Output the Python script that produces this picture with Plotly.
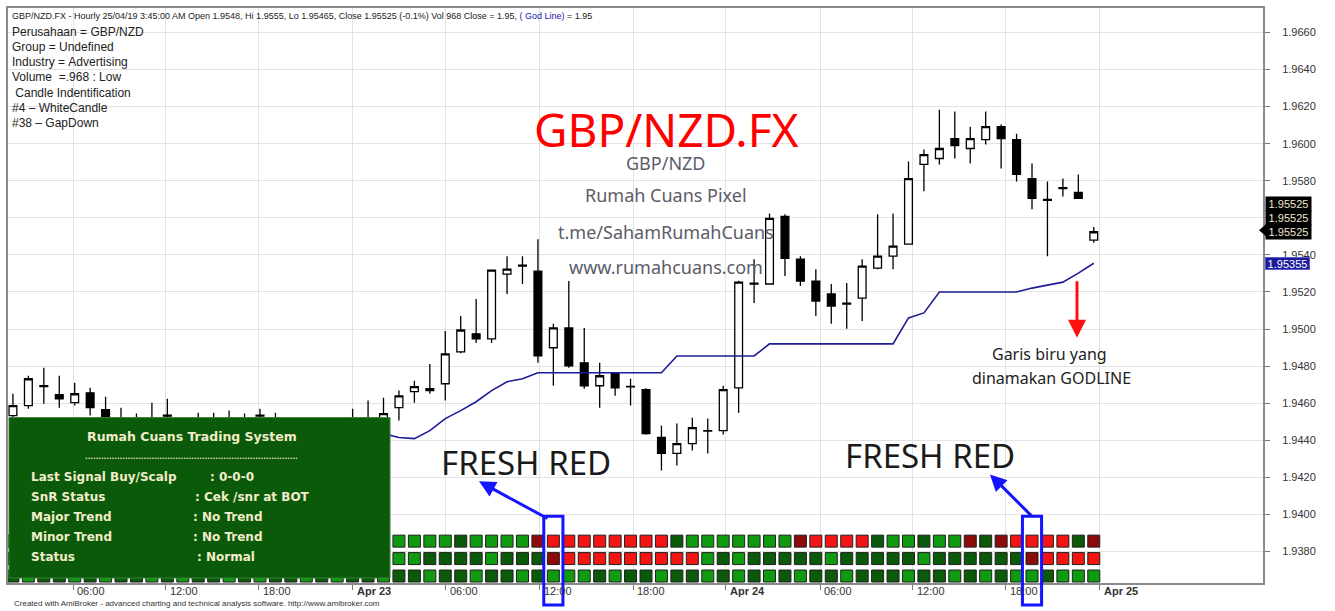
import plotly.graph_objects as go

# hourly GBP/NZD.FX bars (bar 0 = first visible bar on Apr 22)
opens = [1.94533, 1.94587, 1.94694, 1.94646, 1.94603, 1.94656, 1.94565, 1.94520, 1.94500, 1.94480,
         1.94535, 1.94500, 1.94490, 1.94510, 1.94490, 1.94520, 1.94530, 1.94520, 1.94490, 1.94470,
         1.94460, 1.94480, 1.94470, 1.94500, 1.94510, 1.94576, 1.94662, 1.94678, 1.94705, 1.94877,
         1.94974, 1.94947, 1.95296, 1.95345, 1.95312, 1.94899, 1.95006, 1.94818, 1.94694, 1.94759,
         1.94690, 1.94673, 1.94415, 1.94329, 1.94382, 1.94452, 1.94452, 1.94683, 1.95248, 1.95243,
         1.95608, 1.95377, 1.95259, 1.95189, 1.95135, 1.95167, 1.95329, 1.95393, 1.95458, 1.95888,
         1.95920, 1.96027, 1.95974, 1.96022, 1.96092, 1.96022, 1.95812, 1.95699, 1.95758, 1.95737,
         1.95480]
highs = [1.94651, 1.94748, 1.94791, 1.94748, 1.94710, 1.94683, 1.94635, 1.94576, 1.94544, 1.94603,
         1.94624, 1.94510, 1.94549, 1.94549, 1.94560, 1.94544, 1.94570, 1.94549, 1.94510, 1.94500,
         1.94510, 1.94510, 1.94570, 1.94614, 1.94630, 1.94668, 1.94721, 1.94812, 1.94990, 1.95071,
         1.95162, 1.95318, 1.95393, 1.95393, 1.95484, 1.95028, 1.95259, 1.95006, 1.94818, 1.94764,
         1.94732, 1.94680, 1.94479, 1.94490, 1.94522, 1.94517, 1.94694, 1.95260, 1.95377, 1.95624,
         1.95619, 1.95393, 1.95323, 1.95243, 1.95248, 1.95377, 1.95619, 1.95624, 1.95904, 1.95968,
         1.96183, 1.96173, 1.96092, 1.96173, 1.96103, 1.96054, 1.95893, 1.95796, 1.95812, 1.95834,
         1.95550]
lows = [1.94480, 1.94570, 1.94597, 1.94576, 1.94587, 1.94533, 1.94480, 1.94450, 1.94430, 1.94440,
        1.94470, 1.94440, 1.94450, 1.94450, 1.94460, 1.94460, 1.94480, 1.94450, 1.94440, 1.94420,
        1.94430, 1.94440, 1.94440, 1.94470, 1.94480, 1.94506, 1.94603, 1.94651, 1.94614, 1.94870,
        1.94925, 1.94925, 1.95189, 1.95243, 1.94818, 1.94694, 1.94791, 1.94678, 1.94576, 1.94640,
        1.94587, 1.94430, 1.94237, 1.94264, 1.94345, 1.94329, 1.94431, 1.94549, 1.95140, 1.95243,
        1.95286, 1.95232, 1.95071, 1.95028, 1.95001, 1.95044, 1.95323, 1.95323, 1.95458, 1.95743,
        1.95888, 1.95920, 1.95893, 1.95995, 1.95866, 1.95796, 1.95646, 1.95393, 1.95715, 1.95705,
        1.95465]
closes = [1.94587, 1.94732, 1.94689, 1.94624, 1.94651, 1.94576, 1.94522, 1.94500, 1.94480, 1.94500,
          1.94530, 1.94480, 1.94510, 1.94490, 1.94520, 1.94500, 1.94535, 1.94490, 1.94470, 1.94460,
          1.94480, 1.94470, 1.94500, 1.94520, 1.94544, 1.94640, 1.94689, 1.94668, 1.94866, 1.94995,
          1.94947, 1.95318, 1.95323, 1.95340, 1.94855, 1.95006, 1.94802, 1.94694, 1.94748, 1.94683,
          1.94688, 1.94436, 1.94329, 1.94382, 1.94468, 1.94450, 1.94673, 1.95253, 1.95243, 1.95597,
          1.95382, 1.95259, 1.95151, 1.95124, 1.95140, 1.95339, 1.95393, 1.95447, 1.95812, 1.95941,
          1.95974, 1.95990, 1.96027, 1.96092, 1.96027, 1.95834, 1.95705, 1.95694, 1.95763, 1.95705,
          1.95525]
god_line = [1.9449, 1.9449, 1.9449, 1.9448, 1.9448, 1.9448, 1.9447, 1.9447, 1.9447, 1.9446,
            1.9446, 1.9446, 1.9446, 1.9445, 1.9445, 1.9445, 1.9445, 1.9445, 1.9444, 1.9444,
            1.9444, 1.9444, 1.9444, 1.9444, 1.94436, 1.94415, 1.94409, 1.94452, 1.94517, 1.94560,
            1.94608, 1.94668, 1.94716, 1.94732, 1.94764, 1.94764, 1.94764, 1.94764, 1.94764, 1.94764,
            1.94764, 1.94764, 1.94764, 1.94855, 1.94855, 1.94855, 1.94855, 1.94855, 1.94855, 1.94920,
            1.94920, 1.94920, 1.94920, 1.94920, 1.94920, 1.94920, 1.94920, 1.94920, 1.95060, 1.95087,
            1.95200, 1.95200, 1.95200, 1.95200, 1.95200, 1.95200, 1.95221, 1.95237, 1.95253, 1.95302,
            1.95355]

# signal ribbon, one code per bar: G green, D dark green, R red, M dark red
ribbon_top = list("GGDGGDGGGDGGDGGGDGGDGGGDG" + "GGGGDGGGGM" + "RRRRRRRRDG" + "GGGGGGMRRR" + "RDGGDGGMDM" + "RRRRDM")
ribbon_mid = list("DDGDDDGDDGDDDGDDGDDDGDDGD" + "GGDDDDGDDD" + "MRRRRRRRRR" + "GDGDDDDDGD" + "DDDDGDDDDD" + "DMRRRR")
ribbon_bot = list("DGDDGDGDDGDGDDGDGDDGDGDDG" + "DDGDDGDDGD" + "GGGDGDDGDD" + "GDGDGDGDDG" + "DDDGDDGDGD" + "GGDGGG")

bar_no = list(range(len(opens)))

tick_pos = [3.89, 9.91, 15.93, 22.02, 28.04, 34.13, 40.16, 46.18, 52.27, 58.29, 64.31, 70.40]
tick_text = ["06:00", "12:00", "18:00", "Apr 23", "06:00", "12:00", "18:00", "Apr 24",
             "06:00", "12:00", "18:00", "Apr 25"]
price_ticks = [1.9380, 1.9400, 1.9420, 1.9440, 1.9460, 1.9480, 1.9500, 1.9520, 1.9540,
               1.9560, 1.9580, 1.9600, 1.9620, 1.9640, 1.9660]
# 1.9560 sits under the black price labels in the original
price_text = ["" if abs(v - 1.9560) < 1e-9 else "%.4f" % v for v in price_ticks]

last_close = 1.95525
last_god = 1.95355
fresh_red_bars = [35, 66]

header = ("GBP/NZD.FX - Hourly 25/04/19 3:45:00 AM Open 1.9548, Hi 1.9555, Lo 1.95465, "
          "Close 1.95525 (-0.1%) Vol 968 Close = 1.95, <span style='color:#1a1aa8'>( God Line)</span> = 1.95")
info_lines = [
    "Perusahaan = GBP/NZD",
    "Group = Undefined",
    "Industry = Advertising",
    "Volume  =.968 : Low",
    " Candle Indentification",
    "#4 \u2013 WhiteCandle",
    "#38 \u2013 GapDown",
]
panel_rows = [
    ("Last Signal Buy/Scalp", ": 0-0-0", 208),
    ("SnR Status", ": Cek /snr at BOT", 193),
    ("Major Trend", ": No Trend", 191),
    ("Minor Trend", ": No Trend", 191),
    ("Status", ": Normal", 195),
]

RIBBON_COLOURS = {"G": "#0f9a0f", "D": "#0a5a0a", "R": "#f41414", "M": "#8c0b0b"}
PANEL_TXT = "#f2eccb"

# plot area in page pixels
L, R, T, B = 8, 1263, 6, 583


def px(x):
    return (x - L) / (R - L)


def py(y):
    return (B - y) / (B - T)


def label(x, y, text, size, color, family="Noto Sans", xanchor="center", **kw):
    return dict(xref="paper", yref="paper", x=px(x), y=py(y), text=text, showarrow=False,
                xanchor=xanchor, yanchor="middle",
                font=dict(family=family, size=size, color=color), **kw)


fig = go.Figure()

fig.add_trace(go.Scatter(
    x=bar_no, y=god_line, mode="lines",
    line=dict(color="#1c1c96", width=1.6),
    hoverinfo="skip", showlegend=False,
))

fig.add_trace(go.Candlestick(
    x=bar_no, open=opens, high=highs, low=lows, close=closes,
    increasing=dict(fillcolor="white", line=dict(color="black", width=1.3)),
    decreasing=dict(fillcolor="black", line=dict(color="black", width=1.3)),
    showlegend=False,
))

for level, row in [(2, ribbon_top), (1, ribbon_mid), (0, ribbon_bot)]:
    fig.add_trace(go.Scatter(
        x=bar_no, y=[level] * len(row), yaxis="y2", mode="markers",
        marker=dict(symbol="square", size=12,
                    color=[RIBBON_COLOURS[c] for c in row],
                    line=dict(color="#202020", width=1)),
        hoverinfo="skip", showlegend=False,
    ))

shapes = []
# green info panel
shapes.append(dict(type="rect", xref="paper", yref="paper",
                   x0=px(9), x1=px(390), y0=py(578), y1=py(417),
                   fillcolor="#0a5a0a", line=dict(color="#3f7f3f", width=1), layer="above"))
# blue boxes around the fresh red columns
for b in fresh_red_bars:
    shapes.append(dict(type="rect", xref="x", yref="paper",
                       x0=b - 0.62, x1=b + 0.62, y0=py(605), y1=py(516),
                       line=dict(color="#1414ff", width=3), layer="above"))
# pointer of the price label
shapes.append(dict(type="path", xref="paper", yref="paper",
                   path="M %f %f L %f %f L %f %f Z" % (px(1259), py(229), px(1266), py(223), px(1266), py(235)),
                   fillcolor="black", line=dict(width=0), layer="above"))

ann = []
# header and symbol info
ann.append(label(10, 14, header, 9, "#222", family="Liberation Sans", xanchor="left"))
for i, line in enumerate(info_lines):
    ann.append(label(10, 30 + 15.2 * i, line.replace(" ", "&nbsp;"), 12, "#222",
                     family="Liberation Sans", xanchor="left"))

# watermark
ann.append(label(666, 127, "GBP/NZD.FX", 46, "#ff0000"))
for txt, yy in [("GBP/NZD", 162), ("Rumah Cuans Pixel", 194), ("t.me/SahamRumahCuans", 231),
                ("www.rumahcuans.com", 266)]:
    ann.append(label(666, yy, txt, 18, "#5c5c68"))

# FRESH RED callouts
for cx, cy in [(526, 462), (930, 455)]:
    ann.append(label(cx, cy, "FRESH RED", 33, "#1a1a1a"))
for hx, hy, tx, ty in [(479, 481, 549, 519), (990, 474, 1033, 517)]:
    ann.append(dict(xref="paper", yref="paper", x=px(hx), y=py(hy), ax=tx - hx, ay=ty - hy,
                    text="", showarrow=True, arrowhead=2, arrowsize=1.1, arrowwidth=3,
                    arrowcolor="#1414ff"))

# GODLINE note
ann.append(dict(xref="paper", yref="paper", x=px(1077), y=py(337), ax=0, ay=-58, text="",
                showarrow=True, arrowhead=2, arrowsize=1.2, arrowwidth=3, arrowcolor="#ff1010"))
ann.append(label(1049, 353, "Garis biru yang", 16, "#222"))
ann.append(label(1051, 377, "dinamakan GODLINE", 16, "#222"))

# info panel text
ann.append(label(192, 436, "<b>Rumah Cuans Trading System</b>", 12.5, PANEL_TXT, family="DejaVu Sans"))
ann.append(label(192, 457, "<b>" + "." * 80 + "</b>", 7, PANEL_TXT, family="DejaVu Sans"))
for i, (lab, val, vx) in enumerate(panel_rows):
    yy = 477 + 20 * i
    ann.append(label(29, yy, "<b>%s</b>" % lab, 12, PANEL_TXT, family="DejaVu Sans", xanchor="left"))
    ann.append(label(vx, yy, "<b>%s</b>" % val, 12, PANEL_TXT, family="DejaVu Sans", xanchor="left"))

# x tick labels sit to the right of each grid line
for pos, lab in zip(tick_pos, tick_text):
    ann.append(dict(xref="x", yref="paper", x=pos, y=py(591), xanchor="left", yanchor="middle",
                    xshift=2, showarrow=False,
                    text=("<b>%s</b>" % lab) if lab.startswith("Apr") else lab,
                    font=dict(family="Liberation Sans", size=11, color="#333")))

# price labels on the right axis
for k in range(3):
    ann.append(dict(xref="paper", yref="y", x=1, y=last_close, xanchor="left", yanchor="middle",
                    xshift=2, yshift=14 * k, showarrow=False, text="%.5f" % last_close,
                    bgcolor="black", borderpad=0, width=45, height=14,
                    font=dict(family="Liberation Sans", size=11, color="#efe6cf")))
ann.append(dict(xref="paper", yref="y", x=1, y=last_god, xanchor="left", yanchor="middle",
                xshift=2, showarrow=False, text="%.5f" % last_god, bgcolor="#1c1c9a",
                bordercolor="#5a5ad0", borderwidth=1, borderpad=0, width=43, height=11,
                font=dict(family="Liberation Sans", size=11, color="white")))

# footer
ann.append(label(12, 604, "Created with AmiBroker - advanced charting and technical analysis software. "
                          "http://www.amibroker.com", 8, "#333", family="Liberation Sans", xanchor="left"))

fig.update_layout(
    width=1335, height=611,
    margin=dict(l=L, r=1335 - R, t=T, b=611 - B),
    paper_bgcolor="white", plot_bgcolor="white",
    boxgap=0.28,
    shapes=shapes, annotations=ann,
    xaxis=dict(range=[-0.32, 80.96], tickvals=tick_pos, showticklabels=False,
               ticks="outside", ticklen=5, tickcolor="#777",
               showgrid=True, gridcolor="#e2e2e2", gridwidth=1, zeroline=False,
               showline=True, linecolor="#8a8a8a", linewidth=2, mirror=True,
               rangeslider=dict(visible=False)),
    yaxis=dict(range=[1.93630, 1.96732], side="right", tickvals=price_ticks, ticktext=price_text,
               ticks="outside", ticklen=5, tickcolor="#777", ticklabelstandoff=10,
               tickfont=dict(family="Liberation Sans", size=11, color="#333"),
               showgrid=True, gridcolor="#e2e2e2", gridwidth=1, zeroline=False,
               showline=True, linecolor="#8a8a8a", linewidth=2, mirror=True),
    yaxis2=dict(overlaying="y", range=[-0.4, 32.57], visible=False),
)

# the page body keeps its default 8px margin otherwise
fig.write_html("out.html", config={"displayModeBar": False},
               post_script="document.body.style.margin = '0';")
